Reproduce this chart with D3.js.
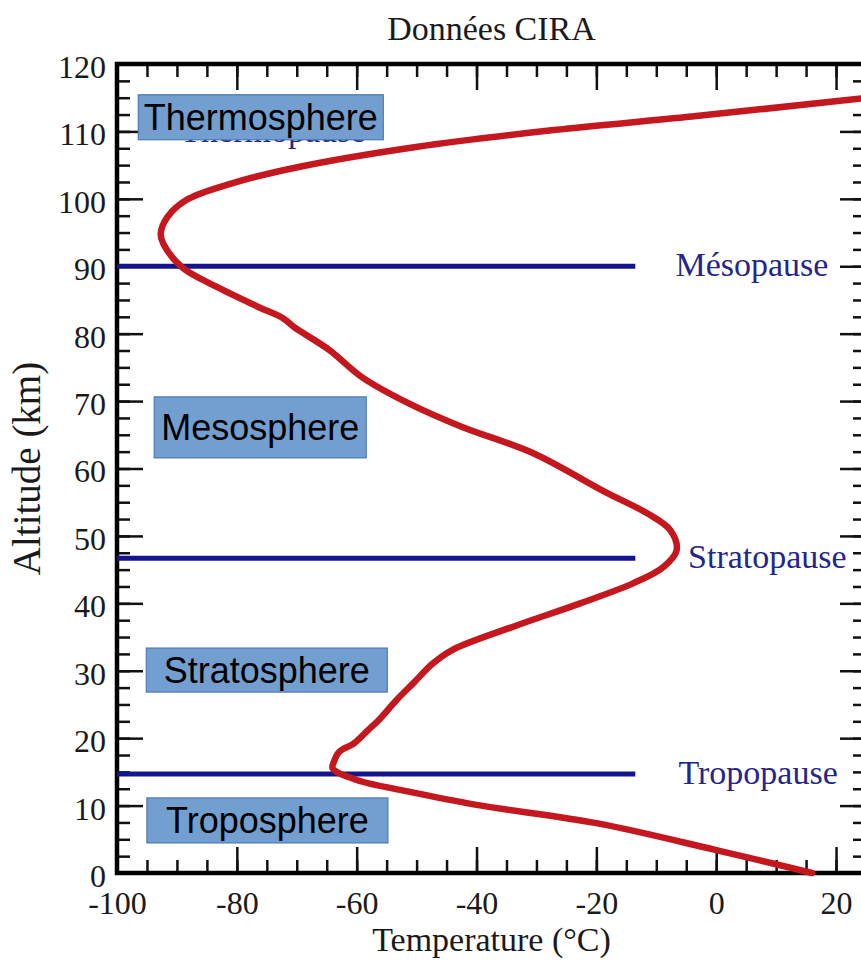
<!DOCTYPE html>
<html>
<head>
<meta charset="utf-8">
<script src="https://cdn.jsdelivr.net/npm/d3@7"></script>
<style>
  body { margin: 0; background: #fff; }
  svg { display: block; }
  .serif { font-family: "Liberation Serif", "DejaVu Serif", serif; }
  .tick text { font-family: "Liberation Serif", serif; font-size: 32px; fill: #1a1a1a; }
  .axis .domain { display: none; }
  .tick line { stroke: #111; stroke-width: 2.5; }
  .pause-label { font-size: 34px; fill: #25258a; }
  .layer-label { font-family: "Liberation Sans", Arial, sans-serif; font-size: 36px; fill: #000; }
</style>
</head>
<body>
<div id="wrapper"></div>
<script>

// CIRA profile: altitude (km) and temperature (°C)
const altitudes = [
  0, 3.4, 7.4, 10.1, 12.1, 13.8, 15.5, 16.5, 18, 19.2, 21.2, 22.7, 25.7, 28.2,
  31, 33.1, 36.5, 40, 43, 45.4, 47.9, 50.9, 53.4, 56.5, 62.3, 66.2, 69.7,
  73.6, 77.6, 81, 82.3, 84, 87, 89.9, 93.4, 94.9, 97.3, 99.8, 102.3,
  104.8, 107.7, 110.2, 112.2, 114.9, 115.6
]
const temperatures = [
  16, 0, -20, -40, -51.5, -60, -64, -63.8, -62.9, -60.5, -58.1, -56.3, -53.3, -50.5,
  -47.4, -44, -34, -22.7, -13.8, -8.8, -6.6, -7.7, -11.6, -18.5, -30.6, -42.5, -51.4,
  -59.2, -64.6, -70.5, -72.3, -76.5, -83.5, -89.2, -92.3, -92.7, -91.6, -88.5, -80.8,
  -69.3, -50.1, -27.1, -4.1, 24.2, 32
]

const pauseNames = ["Tropopause", "Stratopause", "Mésopause"]
const pauseAltitudes = [14.7, 46.7, 90]
const pauseLineEnd = -13.5
const pauseLabelTemps = [-6.3, -4.7, -6.8]

const layerNames = ["Troposphere", "Stratosphere", "Mesosphere", "Thermosphere"]
const layerLabelAltitudes = [7.8, 30.1, 66.1, 112.1]
const layerLabelTemps = [-74.9, -75, -76.1, -76]

const xMajorTicks = d3.range(-100, 21, 20)
const xMinorTicks = d3.range(-100, 26, 5)
const yMajorTicks = d3.range(0, 121, 10)
const yMinorTicks = d3.range(0, 121, 2.5)

function drawChart() {

  // 1. Dimensions

  const dimensions = {
    width: 861,
    height: 961,
    plotLeft: 117,
    plotRight: 866,
    plotTop: 64,
    plotBottom: 873,
    majorTick: 26,
    minorTick: 13,
  }
  const boxSizes = {
    Thermosphere: [245, 45],
    Mesosphere: [212, 61],
    Stratosphere: [241, 44],
    Troposphere: [241, 45],
  }

  // 2. Canvas

  const wrapper = d3.select("#wrapper")
    .append("svg")
      .attr("width", dimensions.width)
      .attr("height", dimensions.height)

  wrapper.append("rect")
      .attr("width", dimensions.width)
      .attr("height", dimensions.height)
      .attr("fill", "#fff")

  // 3. Scales

  const xScale = d3.scaleLinear()
    .domain([-100, 25])
    .range([dimensions.plotLeft, dimensions.plotRight])

  const yScale = d3.scaleLinear()
    .domain([0, 120])
    .range([dimensions.plotBottom, dimensions.plotTop])

  // 4. Axes (ticks inside on all four sides)

  const drawAxis = (axisFn, scale, ticks, size, translate, labels, padding) => {
    const axis = axisFn(scale)
      .tickValues(ticks)
      .tickSize(-size)
      .tickPadding(padding || 0)
      .tickFormat(labels ? d3.format("d") : "")
    return wrapper.append("g")
        .attr("class", "axis")
        .attr("transform", translate)
        .call(axis)
  }

  const bottomT = `translate(0, ${dimensions.plotBottom})`
  const topT = `translate(0, ${dimensions.plotTop})`
  const leftT = `translate(${dimensions.plotLeft}, 0)`
  const rightT = `translate(${dimensions.plotRight}, 0)`

  drawAxis(d3.axisBottom, xScale, xMinorTicks, dimensions.minorTick, bottomT)
  drawAxis(d3.axisTop, xScale, xMinorTicks, dimensions.minorTick, topT)
  drawAxis(d3.axisLeft, yScale, yMinorTicks, dimensions.minorTick, leftT)
  drawAxis(d3.axisRight, yScale, yMinorTicks, dimensions.minorTick, rightT)

  const xAxis = drawAxis(d3.axisBottom, xScale, xMajorTicks, dimensions.majorTick, bottomT, true, 18)
  drawAxis(d3.axisTop, xScale, xMajorTicks, dimensions.majorTick, topT)
  const yAxis = drawAxis(d3.axisLeft, yScale, yMajorTicks, dimensions.majorTick, leftT, true, 11)
  drawAxis(d3.axisRight, yScale, yMajorTicks, dimensions.majorTick, rightT)

  yAxis.selectAll(".tick text").attr("dy", "0.42em")
  xAxis.selectAll(".tick text").text(d => d < 0 ? "-" + Math.abs(d) : d)

  // frame
  wrapper.append("rect")
      .attr("x", dimensions.plotLeft)
      .attr("y", dimensions.plotTop)
      .attr("width", dimensions.plotRight - dimensions.plotLeft)
      .attr("height", dimensions.plotBottom - dimensions.plotTop)
      .attr("fill", "none")
      .attr("stroke", "#000")
      .attr("stroke-width", 4.5)

  // 5. Data

  const clip = wrapper.append("defs").append("clipPath").attr("id", "plot-clip")
  clip.append("rect")
      .attr("x", dimensions.plotLeft)
      .attr("y", dimensions.plotTop)
      .attr("width", dimensions.plotRight - dimensions.plotLeft)
      .attr("height", dimensions.plotBottom - dimensions.plotTop + 4)

  const pauses = pauseNames.map((name, i) => ({
    name, alt: pauseAltitudes[i], labelT: pauseLabelTemps[i]
  }))

  wrapper.append("g")
    .selectAll("line")
    .data(pauses)
    .join("line")
      .attr("x1", xScale(-100))
      .attr("x2", xScale(pauseLineEnd))
      .attr("y1", d => yScale(d.alt))
      .attr("y2", d => yScale(d.alt))
      .attr("stroke", "#14148e")
      .attr("stroke-width", 5)

  wrapper.append("g")
    .selectAll("text")
    .data(pauses)
    .join("text")
      .attr("class", "serif pause-label")
      .attr("x", d => xScale(d.labelT))
      .attr("y", d => yScale(d.alt))
      .attr("dy", "0.3em")
      .text(d => d.name)

  const profile = altitudes.map((alt, i) => ({ alt, temp: temperatures[i] }))

  const lineGenerator = d3.line()
    .x(d => xScale(d.temp))
    .y(d => yScale(d.alt))
    .curve(d3.curveCatmullRom.alpha(0.5))

  wrapper.append("path")
      .datum(profile)
      .attr("clip-path", "url(#plot-clip)")
      .attr("d", lineGenerator)
      .attr("fill", "none")
      .attr("stroke", "#c4171e")
      .attr("stroke-width", 6.5)
      .attr("stroke-linejoin", "round")
      .attr("stroke-linecap", "round")

  // 6. Peripherals

  // label mostly hidden under the Thermosphere box
  wrapper.append("text")
      .attr("class", "serif pause-label")
      .attr("x", xScale(-74))
      .attr("y", yScale(layerLabelAltitudes[3]) + 25)
      .attr("text-anchor", "middle")
      .text("Thermopause")

  const layers = layerNames.map((name, i) => ({
    name, alt: layerLabelAltitudes[i], temp: layerLabelTemps[i]
  }))

  const layerGroups = wrapper.append("g")
    .selectAll("g")
    .data(layers)
    .join("g")
      .attr("transform", d => `translate(${xScale(d.temp)}, ${yScale(d.alt)})`)

  layerGroups.append("rect")
      .attr("x", d => -boxSizes[d.name][0] / 2)
      .attr("y", d => -boxSizes[d.name][1] / 2)
      .attr("width", d => boxSizes[d.name][0])
      .attr("height", d => boxSizes[d.name][1])
      .attr("fill", "#729fcf")
      .attr("stroke", "#4a7ab8")
      .attr("stroke-width", 1.2)

  layerGroups.append("text")
      .attr("class", "layer-label")
      .attr("text-anchor", "middle")
      .attr("dy", "0.36em")
      .text(d => d.name)

  wrapper.append("text")
      .attr("class", "serif")
      .attr("x", (dimensions.plotLeft + dimensions.plotRight) / 2)
      .attr("y", 40)
      .attr("text-anchor", "middle")
      .attr("font-size", 34)
      .attr("fill", "#1a1a1a")
      .text("Données CIRA")

  wrapper.append("text")
      .attr("class", "serif")
      .attr("x", (dimensions.plotLeft + dimensions.plotRight) / 2)
      .attr("y", 951)
      .attr("text-anchor", "middle")
      .attr("font-size", 34)
      .attr("fill", "#1a1a1a")
      .text("Temperature (°C)")

  wrapper.append("text")
      .attr("class", "serif")
      .attr("transform", `translate(40, ${(dimensions.plotTop + dimensions.plotBottom) / 2}) rotate(-90)`)
      .attr("text-anchor", "middle")
      .attr("font-size", 39)
      .attr("fill", "#1a1a1a")
      .text("Altitude (km)")
}
drawChart()
</script>
</body>
</html>
